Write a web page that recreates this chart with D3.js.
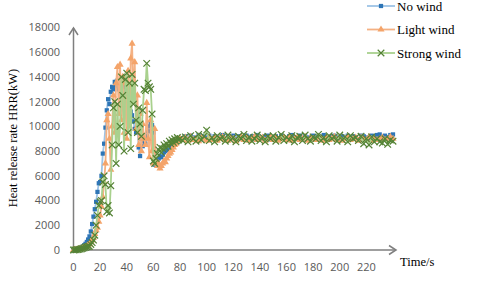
<!DOCTYPE html>
<html>
<head>
<meta charset="utf-8">
<script src="https://cdn.jsdelivr.net/npm/d3@7"></script>
<style>
  html, body { margin: 0; padding: 0; background: #fff; }
  svg { display: block; }
  .tick-label { font-family: "Open Sans", sans-serif; font-size: 11px; fill: #595959; }
  .serif { font-family: "Liberation Serif", "DejaVu Serif", serif; fill: #000; }
</style>
</head>
<body>
<svg id="chart" width="480" height="282"></svg>
<script>
  // time axis: 1 s steps up to 80 s, then 2 s steps up to 240 s
  var timeEarly = d3.range(0, 81);
  var timeLate = d3.range(82, 241, 2);
  var time = timeEarly.concat(timeLate);

  var xTicks = [0, 20, 40, 60, 80, 100, 120, 140, 160, 180, 200, 220];
  var yTicks = [0, 2000, 4000, 6000, 8000, 10000, 12000, 14000, 16000, 18000];

  var seriesNames = ["No wind", "Light wind", "Strong wind"];

  // HRR (kW)
  var noWind = [
    0, 20, 40, 60, 100, 150, 200, 280, 380, 500,
    650, 850, 1100, 1500, 2100, 2700, 3300, 3900, 4700, 5400,
    5500, 6000, 7800, 8600, 9900, 11300, 12200, 11800, 12800, 13200,
    13000, 13600, 13300, 13700, 13000, 12800, 13400, 12600, 13200, 12400,
    12900, 12100, 11600, 11200, 10900, 10400, 9800, 9500, 9900, 8300,
    7600, 9000, 8400, 8800, 8600, 9200, 9600, 10000, 10300, 10100,
    9500, 6900, 7000, 7200, 7400, 7600, 7500, 7700, 7900, 8000,
    8200, 8100, 8300, 8400, 8500, 8600, 8700, 8800, 8800, 8900,
    9000,
    9050, 9200, 8950, 9250, 9100, 9000, 9300, 8950, 9200, 9100,
    9250, 9000, 9200, 8950, 9100, 9300, 9000, 9200, 9100, 9250,
    8950, 9200, 9100, 9000, 9250, 9100, 9200, 8950, 9300, 9100,
    9000, 9200, 9250, 8950, 9100, 9200, 9000, 9250, 9100, 8950,
    9200, 9300, 9000, 9100, 9250, 8950, 9200, 9100, 9000, 9250,
    9100, 9200, 8950, 9300, 9100, 9000, 9200, 9250, 9100, 8950,
    9200, 9100, 9250, 9000, 9200, 9100, 8950, 9250, 9200, 9100,
    9000, 9250, 9200, 9300, 9350, 9150, 9250, 9100, 9300, 9350
  ];

  var lightWind = [
    0, 10, 20, 40, 60, 90, 120, 160, 200, 250,
    300, 400, 500, 650, 800, 1000, 1300, 1600, 1800, 2300,
    2800, 3500, 4300, 5500, 7000, 10500, 11000, 9000, 6500, 10000,
    12500, 9500, 13500, 14800, 11000, 15000, 10500, 14000, 9500, 13500,
    9000, 14500, 10000, 15500, 16700, 12000, 15200, 9800, 12500, 8500,
    11000, 8000, 10200, 9000, 8500, 11900, 9000, 7500, 10500, 8000,
    7000, 9800, 7200, 6800, 7000, 6600, 6800, 7000, 7200, 7100,
    7400, 7600, 7800, 7900, 8100, 8300, 8500, 8600, 8800, 8900,
    9000,
    8900, 9100, 8850, 9150, 8900, 9000, 8800, 9100, 9000, 8850,
    9150, 8900, 9100, 8850, 9000, 9150, 8900, 8850, 9100, 9000,
    8800, 9000, 9150, 8900, 9100, 8850, 9000, 9150, 8900, 9000,
    9100, 8850, 9000, 9150, 8900, 9100, 8850, 9000, 9100, 8900,
    9150, 8850, 9000, 9100, 8900, 9000, 9150, 8850, 9100, 9000,
    8900, 9150, 9000, 8850, 9100, 8900, 9000, 9150, 8900, 9100,
    8850, 9000, 9150, 8900, 9000, 9100, 8850, 9100, 9000, 8900,
    9150, 8850, 9000, 8900, 9000, 9100, 8900, 9000, 9150, 9000
  ];

  var strongWind = [
    0, 10, 20, 30, 50, 70, 100, 130, 170, 220,
    260, 280, 300, 450, 600, 800, 1200, 2000, 2800, 3600,
    3900, 4000, 5500, 6000, 5300, 3100, 3600, 3000, 5200, 8500,
    11500, 12000, 7000, 11800, 8500, 10000, 14000, 12500, 8000, 13800,
    14300, 9500, 13500, 8200, 14200, 11800, 13500, 10500, 9500, 11500,
    10200, 9200, 11300, 13000, 12900, 15100, 13500, 13200, 13000, 11000,
    7200, 7000, 7400, 7800, 8100, 8300, 7900, 8200, 8500, 8300,
    8600, 8400, 8800, 8600, 8900, 8700, 9000, 8800, 9100, 8900,
    9000,
    8850, 9150, 8750, 9250, 9000, 8800, 9350, 8900, 9200, 9700,
    8850, 9100, 8750, 9250, 9000, 9150, 8800, 9300, 8900, 9100,
    8750, 9200, 9000, 9350, 8850, 9150, 8800, 9000, 9300, 8850,
    9150, 8750, 9200, 9000, 9250, 8800, 9100, 9350, 8850, 9150,
    8900, 9250, 8750, 9100, 9200, 8850, 9300, 9000, 8800, 9150,
    9000, 9350, 8850, 9100, 8750, 9250, 9000, 9150, 8800, 9300,
    8900, 9150, 8750, 9250, 9000, 9100, 8850, 9200, 8600, 9000,
    8500, 9150, 8750, 9000, 8750, 8650, 9000, 8550, 8900, 8800
  ];

  var svg = d3.select("#chart");

  var x = d3.scaleLinear().domain([0, 240]).range([73.5, 393]);
  var y = d3.scaleLinear().domain([0, 18000]).range([250, 27.5]);

  var styles = [
    { line: "#9dc3e6", mark: "#2e75b6", symbol: d3.symbolSquare, size: 18, filled: true },
    { line: "#f4b183", mark: "#f4a46a", symbol: d3.symbolTriangle, size: 22, filled: true },
    { line: "#a9d18e", mark: "#548235", symbol: d3.symbolX, size: 30, filled: false }
  ];
  var allSeries = [noWind, lightWind, strongWind];

  // axes (no tick marks, gray line with open arrow)
  var axisColor = "#7f7f7f";
  svg.append("line")
    .attr("x1", x(0)).attr("x2", 396)
    .attr("y1", y(0)).attr("y2", y(0))
    .attr("stroke", axisColor).attr("stroke-width", 1.5);
  svg.append("path")
    .attr("d", "M389,245.5 L396,250 L389,254.5")
    .attr("fill", "none").attr("stroke", axisColor).attr("stroke-width", 1.5);
  svg.append("line")
    .attr("x1", x(0)).attr("x2", x(0))
    .attr("y1", y(0)).attr("y2", 28)
    .attr("stroke", axisColor).attr("stroke-width", 1.5);
  svg.append("path")
    .attr("d", "M" + (x(0) - 4.5) + ",35 L" + x(0) + ",28 L" + (x(0) + 4.5) + ",35")
    .attr("fill", "none").attr("stroke", axisColor).attr("stroke-width", 1.5);

  svg.append("g").selectAll("text")
    .data(yTicks)
    .join("text")
    .attr("class", "tick-label")
    .attr("x", 60)
    .attr("y", function (d) { return y(d); })
    .attr("dy", "0.35em")
    .attr("text-anchor", "end")
    .text(function (d) { return d; });

  svg.append("g").selectAll("text")
    .data(xTicks)
    .join("text")
    .attr("class", "tick-label")
    .attr("x", function (d) { return x(d); })
    .attr("y", 267)
    .attr("dy", "0.35em")
    .attr("text-anchor", "middle")
    .text(function (d) { return d; });

  svg.append("text")
    .attr("class", "serif")
    .attr("font-size", 12.5)
    .attr("x", 400)
    .attr("y", 266)
    .text("Time/s");

  svg.append("text")
    .attr("class", "serif")
    .attr("font-size", 12.5)
    .attr("transform", "translate(17,138) rotate(-90)")
    .attr("text-anchor", "middle")
    .text("Heat release rate HRR(kW)");

  // series
  var line = d3.line()
    .x(function (d, i) { return x(time[i]); })
    .y(function (d) { return y(d); });

  allSeries.forEach(function (values, k) {
    var st = styles[k];
    var g = svg.append("g");
    g.append("path")
      .datum(values)
      .attr("d", line)
      .attr("fill", "none")
      .attr("stroke", st.line)
      .attr("stroke-width", 1.8);
    var sym = d3.symbol().type(st.symbol).size(st.size);
    g.selectAll("path.mark")
      .data(values)
      .join("path")
      .attr("class", "mark")
      .attr("transform", function (d, i) { return "translate(" + x(time[i]) + "," + y(d) + ")"; })
      .attr("d", sym)
      .attr("fill", st.filled ? st.mark : "none")
      .attr("stroke", st.filled ? "none" : st.mark)
      .attr("stroke-width", 1.2);
  });

  // legend
  var legend = svg.append("g");
  seriesNames.forEach(function (name, k) {
    var st = styles[k];
    var ly = 6 + k * 23.5;
    legend.append("line")
      .attr("x1", 367).attr("x2", 395)
      .attr("y1", ly).attr("y2", ly)
      .attr("stroke", st.line).attr("stroke-width", 1.8);
    legend.append("path")
      .attr("transform", "translate(381," + ly + ")")
      .attr("d", d3.symbol().type(st.symbol).size(st.size))
      .attr("fill", st.filled ? st.mark : "none")
      .attr("stroke", st.filled ? "none" : st.mark)
      .attr("stroke-width", 1.2);
    legend.append("text")
      .attr("class", "serif")
      .attr("font-size", 13)
      .attr("x", 397)
      .attr("y", ly)
      .attr("dy", "0.35em")
      .text(name);
  });
</script>
</body>
</html>
